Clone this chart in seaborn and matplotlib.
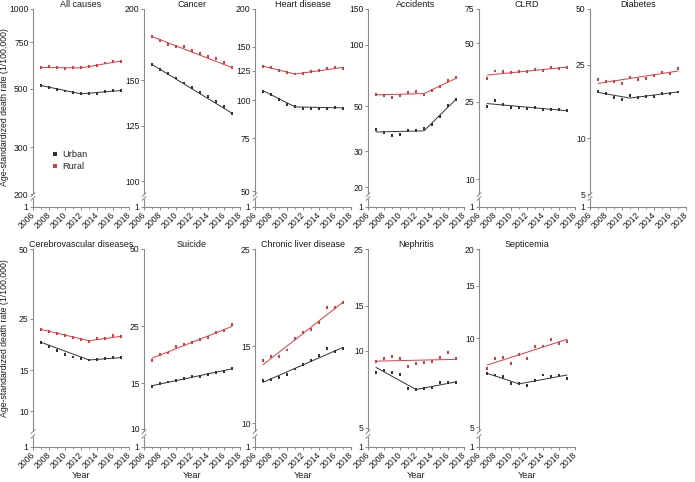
import matplotlib
matplotlib.use("Agg")
import matplotlib.pyplot as plt
from matplotlib.ticker import FixedLocator, FixedFormatter, NullLocator, MultipleLocator
from matplotlib.lines import Line2D
import pandas as pd
import seaborn as sns

# ---------------- data ----------------
years = list(range(2007, 2018))
areas = ["Urban", "Rural"]

titles = ["All causes", "Cancer", "Heart disease", "Accidents", "CLRD", "Diabetes",
          "Cerebrovascular diseases", "Suicide", "Chronic liver disease", "Nephritis", "Septicemia"]

all_causes_urban = [514, 507, 497, 490, 484, 478, 478, 481, 486, 492, 491]
all_causes_rural = [600, 606, 600, 595, 602, 600, 608, 613, 625, 633, 635]
cancer_urban = [160, 157, 154, 151.5, 148.5, 146, 143, 140.5, 138, 135, 131.5]
cancer_rural = [179, 176.5, 173.5, 172, 172, 169, 167.5, 165, 164, 161.5, 158]
heart_urban = [107, 104.2, 100.3, 97, 95.3, 94.2, 94.2, 93.7, 94.2, 94.6, 94.2]
heart_rural = [129, 128, 125, 123.3, 122, 122.3, 124, 125.2, 127, 128, 127.5]
accidents_urban = [38.2, 37.2, 35.9, 36.1, 37.8, 37.8, 38.9, 40.7, 44.4, 50.6, 54.1]
accidents_rural = [57, 56.6, 55.1, 56.2, 58.1, 59.2, 57.2, 59.7, 62.6, 66.7, 68.8]
clrd_urban = [23.7, 25.5, 24.1, 23.5, 23.5, 23.1, 23.3, 22.8, 22.9, 22.8, 22.5]
clrd_rural = [33, 36, 35.6, 35.2, 35.6, 35.8, 36.8, 36.2, 37.5, 37, 37.6]
diabetes_urban = [18, 17.4, 16.6, 16.2, 17.1, 16.7, 16.8, 16.9, 17.4, 17.5, 17.8]
diabetes_rural = [20.8, 20.2, 20.2, 19.8, 21.3, 20.7, 21.1, 21.9, 22.7, 22.4, 23.8]
cerebro_urban = [19.8, 18.9, 18.2, 17.6, 17.1, 16.8, 16.6, 16.7, 16.9, 17.0, 17.0]
cerebro_rural = [22.5, 22, 21.6, 21.2, 20.8, 20.4, 20.0, 20.6, 20.5, 21.1, 20.9]
suicide_urban = [14.65, 15.0, 15.2, 15.4, 15.7, 16.0, 15.9, 16.3, 16.5, 16.7, 17.2]
suicide_rural = [18.4, 19.4, 19.7, 20.8, 21.3, 21.6, 22.2, 22.6, 23.6, 24.0, 25.4]
liver_urban = [12.5, 12.6, 12.7, 12.9, 13.3, 13.6, 13.9, 14.3, 14.8, 14.6, 14.8]
liver_rural = [13.9, 14.2, 14.2, 14.7, 15.6, 16.1, 16.4, 17.0, 18.4, 18.4, 18.9]
nephritis_urban = [8.2, 8.4, 8.2, 8.1, 7.1, 7.05, 7.1, 7.2, 7.5, 7.5, 7.5]
nephritis_rural = [9.1, 9.3, 9.5, 9.3, 8.7, 8.9, 9.0, 9.1, 9.4, 9.8, 9.3]
septicemia_urban = [7.6, 7.5, 7.4, 7.0, 7.0, 6.9, 7.2, 7.5, 7.4, 7.5, 7.3]
septicemia_rural = [7.9, 8.5, 8.6, 8.2, 8.8, 8.5, 9.35, 9.4, 9.9, 9.6, 9.7]

# joinpoint-regression fitted lines (year, rate)
all_causes_urban_fit = [(2007, 514), (2012, 478), (2017, 492)]
all_causes_rural_fit = [(2007, 601), (2012, 599), (2017, 636)]
cancer_urban_fit = [(2007, 160), (2017, 131.5)]
cancer_rural_fit = [(2007, 179), (2017, 158)]
heart_urban_fit = [(2007, 107.5), (2011, 95), (2017, 94.3)]
heart_rural_fit = [(2007, 129.5), (2011, 122), (2017, 128.3)]
accidents_urban_fit = [(2007, 37.3), (2013, 37.8), (2017, 54)]
accidents_rural_fit = [(2007, 56.8), (2013, 57.6), (2017, 68.5)]
clrd_urban_fit = [(2007, 24.5), (2017, 22.5)]
clrd_rural_fit = [(2007, 34.3), (2017, 37.7)]
diabetes_urban_fit = [(2007, 17.7), (2011, 16.5), (2017, 17.8)]
diabetes_rural_fit = [(2007, 19.8), (2017, 23.1)]
cerebro_urban_fit = [(2007, 19.8), (2013, 16.6), (2017, 17.0)]
cerebro_rural_fit = [(2007, 22.5), (2013, 20.1), (2017, 21.0)]
suicide_urban_fit = [(2007, 14.7), (2017, 17.1)]
suicide_rural_fit = [(2007, 18.8), (2017, 25.0)]
liver_urban_fit = [(2007, 12.4), (2017, 14.9)]
liver_rural_fit = [(2007, 13.6), (2017, 18.9)]
nephritis_urban_fit = [(2007, 8.6), (2012, 7.05), (2017, 7.55)]
nephritis_rural_fit = [(2007, 9.1), (2017, 9.25)]
septicemia_urban_fit = [(2007, 7.6), (2011, 7.0), (2017, 7.5)]
septicemia_rural_fit = [(2007, 8.1), (2017, 9.9)]

# y tick labels per panel and lower axis limits
yticks_list = [[200, 300, 500, 750, 1000], [100, 125, 150, 200], [50, 75, 100, 125, 150, 200],
               [20, 30, 50, 100, 150], [10, 25, 50, 75], [5, 10, 25, 50],
               [10, 15, 25, 50], [10, 15, 25, 50], [10, 15, 25], [5, 10, 15, 25], [5, 10, 15, 20]]
ylow_list = [200, 95, 49, 18.5, 8.4, 5, 8.2, 9.8, 9.6, 4.85, 4.85]
xticks = [2006, 2008, 2010, 2012, 2014, 2016, 2018]

urban_points = [all_causes_urban, cancer_urban, heart_urban, accidents_urban, clrd_urban, diabetes_urban,
                cerebro_urban, suicide_urban, liver_urban, nephritis_urban, septicemia_urban]
rural_points = [all_causes_rural, cancer_rural, heart_rural, accidents_rural, clrd_rural, diabetes_rural,
                cerebro_rural, suicide_rural, liver_rural, nephritis_rural, septicemia_rural]
urban_fits = [all_causes_urban_fit, cancer_urban_fit, heart_urban_fit, accidents_urban_fit, clrd_urban_fit,
              diabetes_urban_fit, cerebro_urban_fit, suicide_urban_fit, liver_urban_fit,
              nephritis_urban_fit, septicemia_urban_fit]
rural_fits = [all_causes_rural_fit, cancer_rural_fit, heart_rural_fit, accidents_rural_fit, clrd_rural_fit,
              diabetes_rural_fit, cerebro_rural_fit, suicide_rural_fit, liver_rural_fit,
              nephritis_rural_fit, septicemia_rural_fit]

# ---------------- style ----------------
sns.set_style("ticks")
plt.rcParams['font.family'] = ['Liberation Sans', 'DejaVu Sans']
SPINE = '#8a8a8a'
TXT = '#1a1a1a'
palette = {"Urban": "#333333", "Rural": "#e03a3e"}
FS = 6.2

W_PX, H_PX = 695, 482
fig = plt.figure(figsize=(W_PX / 100, H_PX / 100), dpi=100)

col_left = [33, 144, 255, 368, 479, 590]
col_w = 96
rows = [dict(main=(9, 194), low=(199, 207)), dict(main=(249, 431), low=(437, 447))]


def rect(left, top, width, bottom):
    return [left / W_PX, 1 - bottom / H_PX, width / W_PX, (bottom - top) / H_PX]


for i, title in enumerate(titles):
    r, c = divmod(i, 6)
    g = rows[r]
    L = col_left[c]
    ax = fig.add_axes(rect(L, g['main'][0], col_w, g['main'][1]))
    lax = fig.add_axes(rect(L, g['low'][0], col_w, g['low'][1]))

    pts = pd.DataFrame({
        "year": years * 2,
        "rate": list(urban_points[i]) + list(rural_points[i]),
        "area": ["Urban"] * len(years) + ["Rural"] * len(years),
    })
    fit_rows = [(y, v, "Urban") for y, v in urban_fits[i]] + [(y, v, "Rural") for y, v in rural_fits[i]]
    fit = pd.DataFrame(fit_rows, columns=["year", "rate", "area"])

    ax.set_yscale('log')
    sns.lineplot(data=fit, x="year", y="rate", hue="area", hue_order=areas, palette=palette,
                 estimator=None, linewidth=0.7, legend=False, ax=ax)
    sns.scatterplot(data=pts, x="year", y="rate", hue="area", hue_order=areas, palette=palette,
                    marker='s', s=4.5, linewidth=0, legend=(i == 0), ax=ax, zorder=3)

    ticks = yticks_list[i]
    ax.set_ylim(ylow_list[i], max(ticks))
    ax.yaxis.set_major_locator(FixedLocator(ticks))
    ax.yaxis.set_major_formatter(FixedFormatter([str(t) for t in ticks]))
    ax.yaxis.set_minor_locator(NullLocator())
    ax.set_xlim(2006, 2018)
    ax.set_xticks([])
    ax.set_xlabel("")
    ax.set_ylabel("")
    for s in ['top', 'right', 'bottom']:
        ax.spines[s].set_visible(False)
    ax.spines['left'].set_color(SPINE)
    ax.spines['left'].set_linewidth(0.8)
    ax.tick_params(axis='y', length=2.2, width=0.7, color=SPINE, labelsize=FS, labelcolor=TXT, pad=1)
    ax.set_title(title, fontsize=FS + 0.3, color=TXT, pad=1.5)
    ax.set_facecolor('none')

    # lower broken part of the axis showing "1"
    lax.set_xlim(2006, 2018)
    lax.set_ylim(1, 2)
    lax.set_yticks([1])
    lax.set_yticklabels(["1"])
    lax.xaxis.set_major_locator(FixedLocator(xticks))
    lax.xaxis.set_minor_locator(MultipleLocator(1))
    lax.set_xticklabels([str(t) for t in xticks], rotation=45, ha='right', va='center',
                        rotation_mode='anchor')
    for s in ['top', 'right']:
        lax.spines[s].set_visible(False)
    for s in ['left', 'bottom']:
        lax.spines[s].set_color(SPINE)
        lax.spines[s].set_linewidth(0.8)
    lax.tick_params(axis='y', length=2.2, width=0.7, color=SPINE, labelsize=FS, labelcolor=TXT, pad=1)
    lax.tick_params(axis='x', which='major', length=2, width=0.7, color=SPINE, labelsize=FS,
                    labelcolor=TXT, pad=3)
    lax.tick_params(axis='x', which='minor', length=1.5, width=0.6, color=SPINE)
    lax.set_facecolor('none')
    if r == 1:
        lax.set_xlabel("Year", fontsize=FS + 0.4, color=TXT)
        lax.xaxis.set_label_coords(0.5, -2.35)

    # break marks on the y spine
    yb0 = 1 - g['main'][1] / H_PX
    yb1 = 1 - g['low'][0] / H_PX
    x0 = L / W_PX
    dx = 2 / W_PX
    dy = 2 / H_PX
    for yc in (yb0 - 0.6 / H_PX, yb1 + 0.6 / H_PX):
        fig.add_artist(Line2D([x0 - dx, x0 + dx], [yc - dy, yc + dy], color=SPINE, lw=0.7,
                              transform=fig.transFigure))

    if i == 0:
        h, lab = ax.get_legend_handles_labels()
        ax.legend(h, lab, loc='lower left', bbox_to_anchor=(0.1, 0.09), frameon=False,
                  fontsize=FS + 0.5, handletextpad=0.2, borderpad=0.2, labelspacing=0.3,
                  handlelength=1.2, markerscale=1.2)

# y labels
for cy in (107, 338):
    fig.text(5 / W_PX, 1 - cy / H_PX, "Age-standardized death rate (1/100,000)", rotation=90,
             ha='center', va='center', fontsize=FS + 0.1, color=TXT)

fig.savefig("out.png", dpi=100)
